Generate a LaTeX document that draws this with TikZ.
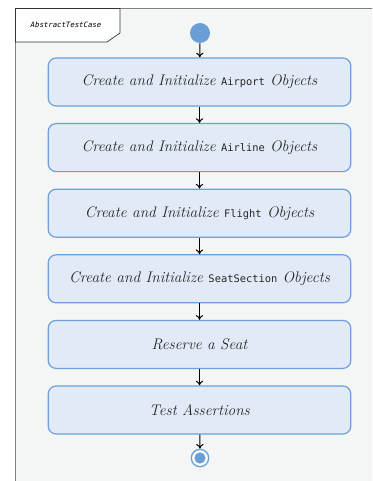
\documentclass[tikz,border=0pt]{standalone}
\usepackage{fontspec}
\newfontfamily\codefont{DejaVu Sans Mono}
\usetikzlibrary{arrows.meta, positioning}

\definecolor{framegray}{HTML}{7F7F7F}
\definecolor{areabg}{HTML}{F4F5F5}
\definecolor{actfill}{HTML}{E3EAF7}
\definecolor{actline}{HTML}{6CA0DC}
\definecolor{dotblue}{HTML}{6A9FD6}
\definecolor{txtgray}{HTML}{262626}

\newcommand{\cls}[1]{{\codefont\upshape\fontsize{7.8}{9}\selectfont #1}}

\begin{document}
\begin{tikzpicture}[x=0.75pt, y=-0.75pt,
  activity/.style={draw=actline, fill=actfill, line width=0.9pt, rounded corners=6pt,
    minimum width=227pt, minimum height=36pt, text=txtgray,
    font=\itshape\fontsize{11.5}{13}\selectfont},
  flow/.style={-{To[length=3.5pt, width=5.5pt]}, line width=0.75pt, black}]
\useasboundingbox (0,0) rectangle (372,481);
\clip (0,0) rectangle (372,481);

% frame of the activity
\draw[framegray, fill=areabg, line width=1.1pt] (15.5,8.5) rectangle (390,500);
\draw[black!80, fill=white, line width=0.5pt] (15.5,8.5) -- (120,8.5) -- (120,33) -- (107,42) -- (15.5,42) -- cycle;
\node[font=\codefont\itshape\fontsize{5.5}{6}\selectfont, text=black] (title) at (66,25) {AbstractTestCase};

% start and end
\node[circle, fill=dotblue, minimum size=15pt, inner sep=0pt] (start) at (200,33) {};
\node[circle, draw=dotblue, fill=white, line width=1pt, minimum size=13pt, inner sep=0pt] (stop) at (200,458) {};
\fill[dotblue] (stop.center) circle (4.2pt);

% actions
\node[activity] (airport) at (199.5,82) {Create and Initialize \cls{Airport} Objects};
\node[activity] (airline) at (199.5,147.6) {Create and Initialize \cls{Airline} Objects};
\node[activity] (flight) at (199.5,213.2) {Create and Initialize \cls{Flight} Objects};
\node[activity] (section) at (199.5,278.8) {Create and Initialize \cls{SeatSection} Objects};
\node[activity] (reserve) at (199.5,344.4) {Reserve a Seat};
\node[activity] (asserts) at (199.5,410) {Test Assertions};

% control flow
\draw[flow] (start) -- (airport);
\draw[flow] (airport) -- (airline);
\draw[flow] (airline) -- (flight);
\draw[flow] (flight) -- (section);
\draw[flow] (section) -- (reserve);
\draw[flow] (reserve) -- (asserts);
\draw[flow] (asserts) -- (stop);
\end{tikzpicture}
\end{document}
